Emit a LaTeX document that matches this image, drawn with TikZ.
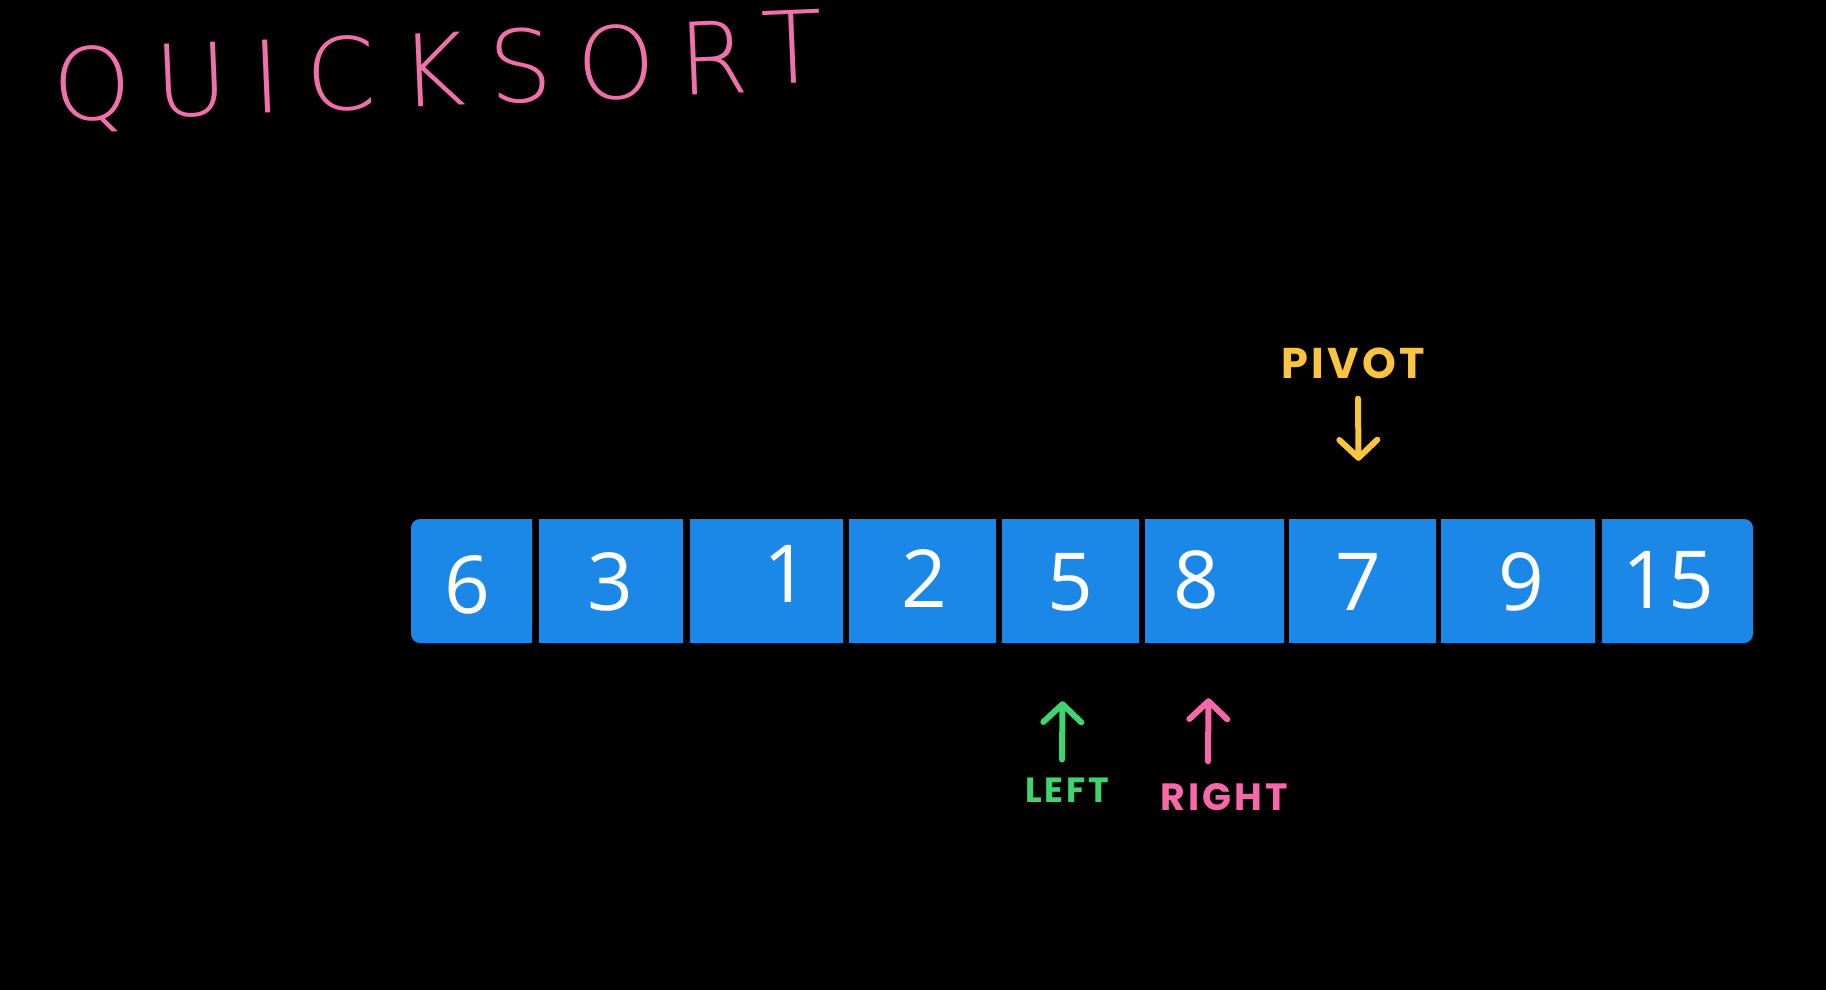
\documentclass[tikz,border=0pt]{standalone}
\usepackage{fontspec}
\usetikzlibrary{arrows.meta}
\newfontfamily\titlefont[LetterSpace=24]{DejaVu Sans ExtraLight}
\newfontfamily\digitfont{Open Sans}
\newfontfamily\labfont[LetterSpace=8]{Poppins}
\definecolor{cellblue}{RGB}{27,136,232}
\definecolor{titlepink}{RGB}{240,112,172}
\definecolor{pivyellow}{RGB}{252,196,62}
\definecolor{leftgreen}{RGB}{62,212,110}
\definecolor{rightpink}{RGB}{248,104,168}
\begin{document}
\begin{tikzpicture}[x=1pt,y=-1pt,
  cell/.style={fill=cellblue, draw=none, minimum height=124pt, inner sep=0pt},
  digit/.style={text=white, inner sep=0pt, font=\digitfont\fontsize{80}{80}\selectfont},
  lab/.style={inner sep=0pt, font=\labfont\bfseries},
  ptr/.style={line width=6pt, line cap=round, line join=round,
    -{Straight Barb[length=18pt,width=38pt,round]}}
]
\fill[black] (0,0) rectangle (1826,990);
\useasboundingbox (0,0) rectangle (1826,990);

% title
\node[anchor=base west, inner sep=0pt, rotate=2.4, text=titlepink,
  font=\titlefont\fontsize{100}{100}\selectfont] (title) at (54,122)
  {QUICKSOR\kern14pt\raisebox{8pt}{T}};

% cells
\node[cell, minimum width=121pt, rounded corners=9pt] (c1) at (471.5,581) {};
\fill[cellblue] (c1.north) rectangle (c1.south east);
\node[cell, minimum width=144pt] (c2) at (611,581) {};
\node[cell, minimum width=153pt] (c3) at (766.5,581) {};
\node[cell, minimum width=147pt] (c4) at (922.5,581) {};
\node[cell, minimum width=137pt] (c5) at (1070.5,581) {};
\node[cell, minimum width=139pt] (c6) at (1214.5,581) {};
\node[cell, minimum width=147pt] (c7) at (1362.5,581) {};
\node[cell, minimum width=154pt] (c8) at (1518,581) {};
\node[cell, minimum width=151pt, rounded corners=9pt] (c9) at (1677.5,581) {};
\fill[cellblue] (c9.north west) rectangle (c9.south);

% digits
\node[digit] (d1) at (467,585) {6};
\node[digit] (d2) at (610,582) {3};
\node[digit] (d3) at (786,574) {1};
\node[digit] (d4) at (924,579) {2};
\node[digit] (d5) at (1070,582) {5};
\node[digit] (d6) at (1196,580) {8};
\node[digit] (d7) at (1358,582) {7};
\node[digit] (d8) at (1521,582) {9};
\node[digit] (d9) at (1668,580) {15};

% labels
\node[lab, text=pivyellow, font=\labfont\bfseries\fontsize{43}{43}\selectfont] (pivot) at (1353,363) {PIVOT};
\node[lab, text=leftgreen, font=\labfont\bfseries\fontsize{35}{35}\selectfont] (left) at (1067,790) {LEFT};
\node[lab, text=rightpink, font=\labfont\bfseries\fontsize{38}{38}\selectfont] (right) at (1224,797) {RIGHT};

% pointers
\draw[ptr, pivyellow] ([xshift=5pt,yshift=-20pt]pivot.south) -- ([xshift=-4pt,yshift=58pt]c7.north);
\draw[ptr, leftgreen] ([xshift=-5pt,yshift=18pt]left.north) -- ([xshift=-8pt,yshift=-58pt]c5.south);
\draw[ptr, rightpink] ([xshift=-16pt,yshift=22pt]right.north) -- ([xshift=-6pt,yshift=-55pt]c6.south);
\end{tikzpicture}
\end{document}
